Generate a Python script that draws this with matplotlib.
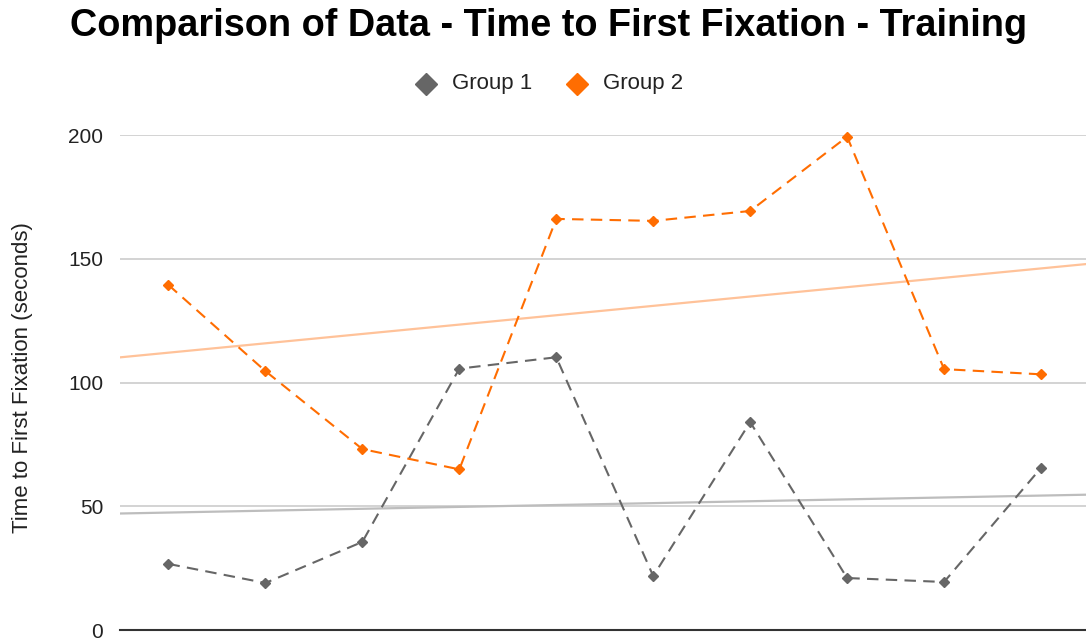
import numpy as np
import matplotlib
matplotlib.use("Agg")
import matplotlib.pyplot as plt

plt.rcParams['font.family'] = ['Liberation Sans', 'DejaVu Sans']

# Trial index and time-to-first-fixation values (seconds)
trials = [1, 2, 3, 4, 5, 6, 7, 8, 9, 10]
group1 = [26.7, 19.0, 35.6, 105.6, 110.2, 21.8, 84.0, 21.0, 19.4, 65.5]
group2 = [139.4, 104.6, 73.1, 64.9, 166.1, 165.3, 169.3, 199.3, 105.4, 103.3]
series_names = ["Group 1", "Group 2"]
y_ticks = [0, 50, 100, 150, 200]

col1 = "#666666"
col2 = "#ff6d01"
trend1 = "#bdbdbd"
trend2 = "#ffc299"
text_col = "#222222"

W, H = 1086, 639
fig = plt.figure(figsize=(W / 100, H / 100), dpi=100)
left, right = 120, 1089.5
bottom, top = 630, 135
ax = fig.add_axes([left / W, 1 - bottom / H, (right - left) / W, (bottom - top) / H])

ax.set_xlim(0.5, 10.5)
ax.set_ylim(0, 200)

# horizontal grid and baseline
for t in y_ticks[1:]:
    ax.axhline(t, color="#cccccc", lw=1.2, zorder=0)
ax.axhline(0, color="#333333", lw=1.5, zorder=1, clip_on=False)

# linear trendlines across the full x range
xs = np.array([0.5, 10.5])
for ys, c in ((group1, trend1), (group2, trend2)):
    k, b = np.polyfit(trials, ys, 1)
    ax.plot(xs, k * xs + b, color=c, lw=1.6, zorder=2)

dash = (0, (5.5, 3.5))
ax.plot(trials, group1, color=col1, lw=1.5, ls=dash, marker="D",
        ms=5.2, mec=col1, mfc=col1, zorder=3, clip_on=False)
ax.plot(trials, group2, color=col2, lw=1.5, ls=dash, marker="D",
        ms=5.2, mec=col2, mfc=col2, zorder=3, clip_on=False)

ax.set_yticks(y_ticks)
ax.set_yticklabels([str(t) for t in y_ticks], fontsize=15, color=text_col)
ax.tick_params(axis="y", length=0, pad=12)
ax.set_xticks([])
for s in ax.spines.values():
    s.set_visible(False)

fig.text(23 / W, 1 - 378 / H, "Time to First Fixation (seconds)", rotation=90,
         ha="center", va="center", fontsize=16, color=text_col)

fig.text(549 / W, 1 - 36 / H, "Comparison of Data - Time to First Fixation - Training",
         ha="center", va="baseline", fontsize=27.3, fontweight="bold", color="black")

# legend
ly = 1 - 84 / H
fig.lines.append(plt.Line2D([426 / W], [ly], marker="D", ms=11, color=col1,
                            transform=fig.transFigure, ls="none"))
fig.text(452 / W, ly, series_names[0], ha="left", va="center", fontsize=16, color=text_col)
fig.lines.append(plt.Line2D([577 / W], [ly], marker="D", ms=11, color=col2,
                            transform=fig.transFigure, ls="none"))
fig.text(603 / W, ly, series_names[1], ha="left", va="center", fontsize=16, color=text_col)

fig.savefig("out.png", dpi=100)
